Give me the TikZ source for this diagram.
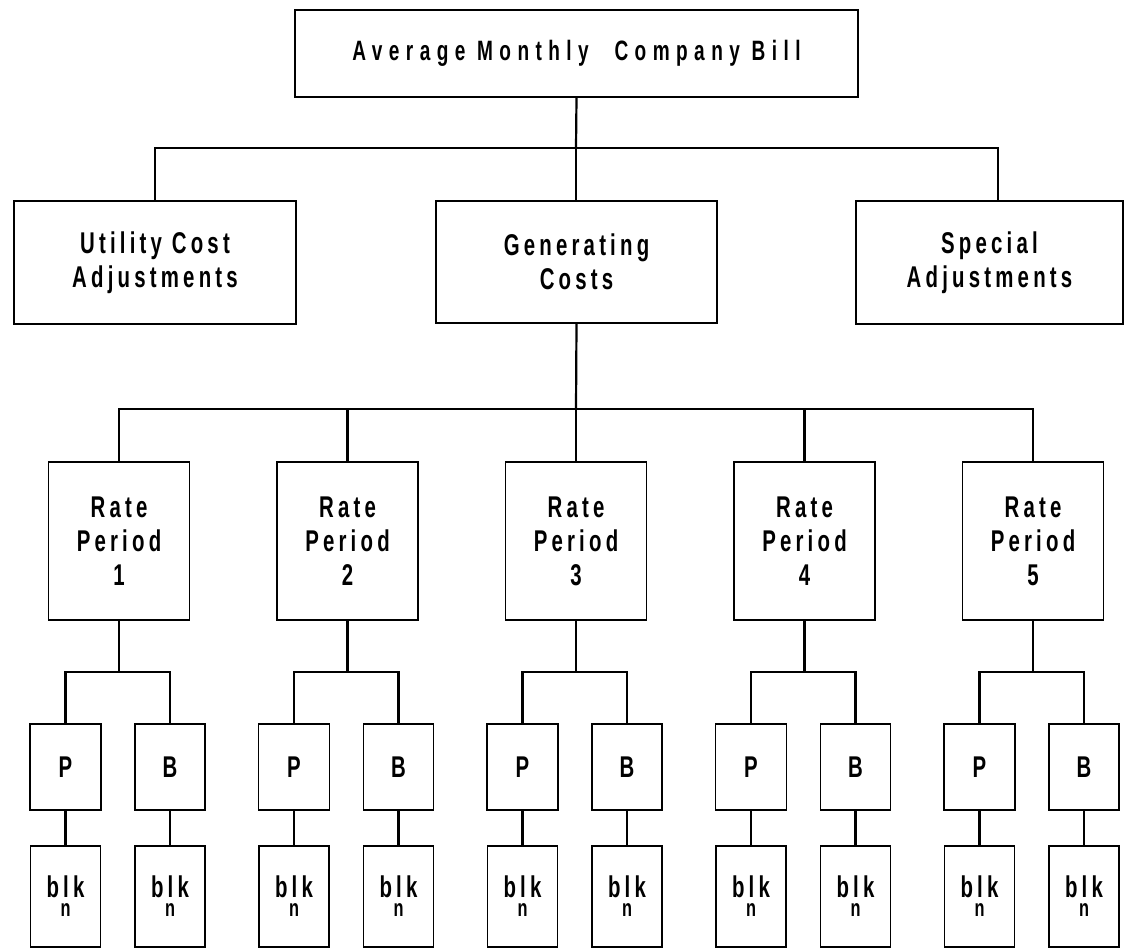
\documentclass[tikz,border=0pt]{standalone}
\usepackage{fontspec}
\setmainfont{Liberation Sans}[FakeStretch=0.68,LetterSpace=14]
\begin{document}
\begin{tikzpicture}[x=1pt,y=-1pt,
  box/.style={draw, line width=1.6pt, inner sep=0pt, align=center},
  conn/.style={line width=2.2pt},
  bigtext/.style={font=\fontsize{28}{32}\selectfont\bfseries\addfontfeatures{LetterSpace=23}},
  midtext/.style={font=\fontsize{30}{34}\selectfont\bfseries},
  blktext/.style={font=\fontsize{30}{19}\selectfont\bfseries}]
\useasboundingbox (0,0) rectangle (1124,949);

% top level
\node[box, bigtext, minimum width=563pt, minimum height=87pt] (top) at (576.5,53.5)
  {Average Monthly\hspace{0.5em} Company Bill};

% second level
\node[box, midtext, minimum width=282pt, minimum height=123pt] (util) at (155,262.5)
  {Utility Cost\\Adjustments};
\node[box, midtext, minimum width=281pt, minimum height=122pt] (gen) at (576.5,262)
  {Generating\\Costs};
\node[box, midtext, minimum width=267pt, minimum height=123pt] (spec) at (989.5,262.5)
  {Special\\Adjustments};

\coordinate (j0) at (576,148);
\coordinate (sj) at (998,148);
\draw[conn] (top.south) -- (j0);
\draw[conn] (util.north) |- (j0);
\draw[conn] (j0) -- (j0 |- gen.north);
\draw[conn] (j0) -- (sj) -- (sj |- spec.north);

% rate periods and their P / B blocks
\coordinate (j1) at (576,409);
\draw[conn] (gen.south) -- (j1);
\foreach \i in {1,...,5} {
  \pgfmathsetmacro{\c}{119+228.5*(\i-1)}
  \node[box, midtext, minimum width=141pt, minimum height=158pt] (r\i) at (\c,541)
    {Rate\\Period\\\i};
  \draw[conn] (r\i.north) |- (j1);
  \coordinate (k\i) at (\c,672);
  \node[box, midtext, minimum width=71pt, minimum height=86pt] (p\i) at (\c-53.5,767) {P};
  \node[box, midtext, minimum width=70pt, minimum height=86pt] (b\i) at (\c+51,767) {B};
  \node[box, blktext, minimum width=70pt, minimum height=101pt] (pn\i) at (\c-53.5,896.5)
    {blk\\{\fontsize{24}{19}\selectfont n}};
  \node[box, blktext, minimum width=70pt, minimum height=101pt] (bn\i) at (\c+51,896.5)
    {blk\\{\fontsize{24}{19}\selectfont n}};
  \draw[conn] (r\i.south) -- (k\i);
  \draw[conn] (k\i) -| (p\i.north);
  \draw[conn] (k\i) -| (b\i.north);
  \draw[conn] (p\i.south) -- (pn\i.north);
  \draw[conn] (b\i.south) -- (bn\i.north);
}
\end{tikzpicture}
\end{document}
